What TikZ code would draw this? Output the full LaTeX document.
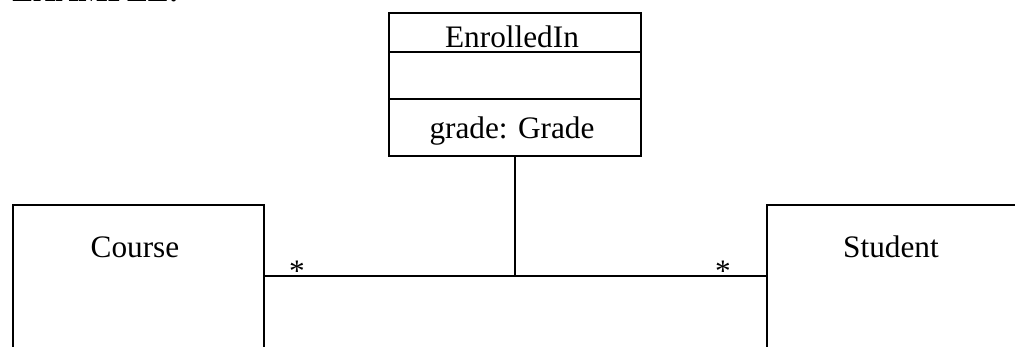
\documentclass[tikz,border=0pt]{standalone}
\usepackage{fontspec}
\setmainfont{Liberation Serif}
\usepackage{tikz}
\usetikzlibrary{calc}
\usetikzlibrary{positioning}
\tikzset{C/.style={rectangle,draw=black,line width=1.1pt,inner sep=0pt,anchor=north west}}
\tikzset{T/.style={anchor=base,inner sep=0pt,font=\fontsize{17.8}{20}\selectfont}}

\begin{document}
\begin{tikzpicture}[x=0.02cm,y=-0.02cm]

\useasboundingbox (0,0) rectangle (1015,346);

\node[T,anchor=base west,font=\fontsize{17.8}{20}\selectfont\bfseries] (ex) at (12,1.5) {EXAMPLE:};

\node[C,minimum width=5.04cm,minimum height=2.86cm] (E) at (388,12) {};
\node[C,minimum width=5.02cm,minimum height=4.4cm] (course) at (12,204) {};
\node[C,minimum width=5.02cm,minimum height=4.4cm] (student) at (766,204) {};

\foreach \y in {52, 99}
  {
 \draw[line width=1.1pt] (E.west |- 0,\y) -- (E.east |- 0,\y);
 }

\node[T] (Ename) at (512,47) {EnrolledIn};
\node[T] (Eattr) at (512,138) {grade: Grade};
\node[T] (cname) at (135,257) {Course};
\node[T] (sname) at (891,257) {Student};

\coordinate (J) at (E.south |- 0,276);
\draw[line width=1.1pt] (E.south) -- (J);
\draw[line width=1.1pt] (course.east |- J) -- (student.west |- J);

\node[T] (m1) at (297,281) {*};
\node[T] (m2) at (723,281) {*};

\end{tikzpicture}
\end{document}
